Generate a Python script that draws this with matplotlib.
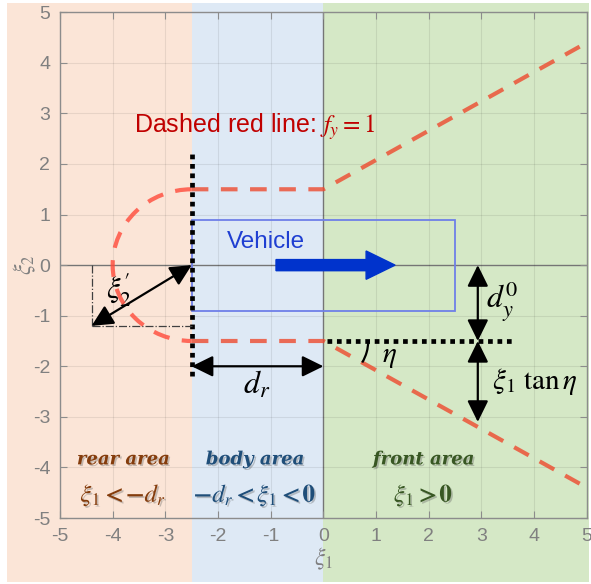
"""
Sketch of the f_y = 1 boundary around the vehicle (rear / body / front areas)
"""
import matplotlib
matplotlib.use('Agg')
import matplotlib.pyplot as plt
from matplotlib.patches import Rectangle, Arc
import matplotlib.patheffects as pe

plt.rcParams['font.family'] = ['Liberation Sans', 'DejaVu Sans']
plt.rcParams['mathtext.fontset'] = 'stix'

# geometry
d_r = 2.5
d_y0 = 1.5
veh_half_w = 0.9
veh_front = 2.5
ticks = [-5, -4, -3, -2, -1, 0, 1, 2, 3, 4, 5]

# region panels: left edge, right edge, colour
region_names = ['rear area', 'body area', 'front area']
region_rules = [r'$\boldsymbol{\xi_1 < -d_r}$', r'$\boldsymbol{-d_r < \xi_1 < 0}$',
                r'$\boldsymbol{\xi_1 > 0}$']
region_left = [-6.0, -2.5, 0.0]
region_right = [-2.5, 0.0, 5.05]
region_face = ['#FBE5D7', '#DEE9F5', '#D5E8C6']
region_text = ['#843C0C', '#1F4E79', '#385723']
region_xc = [-3.8, -1.3, 1.9]

# dashed red boundary
upper_x = [-2.5, 0, 5]
upper_y = [1.5, 1.5, 4.4]
lower_x = [-2.5, 0, 5]
lower_y = [-1.5, -1.5, -4.4]

# rear point for xi_2'
rear_pt = (-4.4, -1.2)
tan_pt_x = 2.93
tan_pt_y = -3.1

fig = plt.figure(figsize=(5.91, 5.84), dpi=100)
ax = fig.add_axes([0.1015, 0.113, 0.8915, 0.866])
ax.set_xlim(-5, 5)
ax.set_ylim(-5, 5)
ax.patch.set_alpha(0)

# coloured panels reaching outside the axes
for l, r, c in zip(region_left, region_right, region_face):
    ax.add_patch(Rectangle((l, -6.26), r - l, 11.44, facecolor=c, edgecolor='none',
                           clip_on=False, zorder=-5))

ax.set_xticks(ticks)
ax.set_yticks(ticks)
ax.set_xticklabels([str(t) for t in ticks])
ax.set_yticklabels([str(t) for t in ticks])
ax.tick_params(direction='in', length=5, colors='#8C8C8C', labelsize=14, top=True, right=True,
               pad=7, width=0.8)
ax.tick_params(axis='x', labelcolor='#808080')
ax.tick_params(axis='y', labelcolor='#808080')
ax.grid(True, color='#000000', alpha=0.08, linewidth=0.8)
for s in ax.spines.values():
    s.set_color('#8C8C8C')
    s.set_linewidth(1.0)
ax.axhline(0, color='#7F7F7F', linewidth=1.0, zorder=1)
ax.axvline(0, color='#7F7F7F', linewidth=1.0, zorder=1)

ax.set_xlabel(r'$\xi_1$', fontsize=17, color='#808080', labelpad=1)
ax.set_ylabel(r'$\xi_2$', fontsize=17, color='#808080', labelpad=-4)

# vehicle
ax.add_patch(Rectangle((-d_r, -veh_half_w), d_r + veh_front, 2 * veh_half_w,
                       facecolor='none', edgecolor='#6F7FE8', linewidth=1.3, zorder=3))
ax.text(-1.1, 0.45, 'Vehicle', color='#1F3FD2', fontsize=17.5, ha='center', va='center')
ax.arrow(-0.9, 0, 2.26, 0, width=0.22, head_width=0.56, head_length=0.55,
         length_includes_head=True, color='#0033CC', zorder=4)

# red dashed boundary
red_kw = dict(color='#EE4A2E', alpha=0.8, linewidth=3.0, dashes=(4, 3), zorder=5)
ax.plot(upper_x, upper_y, **red_kw)
ax.plot(lower_x, lower_y, **red_kw)
ax.add_patch(Arc((-d_r, 0), 2 * d_y0, 2 * d_y0, theta1=90, theta2=270,
                 edgecolor='#FF4A3A', alpha=0.8, linewidth=3.0, linestyle=(0, (4, 3)), zorder=5))
ax.text(-3.6, 2.73, r'Dashed red line: $f_y=1$', color='#C00000', fontsize=18,
        ha='left', va='center')

# black dotted guides
ax.plot([-d_r, -d_r], [-2.2, 2.2], color='black', linewidth=3.4, linestyle=(0, (1, 1)), zorder=6)
ax.plot([0.07, 3.6], [-d_y0, -d_y0], color='black', linewidth=3.4, linestyle=(0, (1, 1)), zorder=6)

# dash-dot projection of the rear point
ax.plot([rear_pt[0], rear_pt[0]], [0, rear_pt[1]], color='#404040', linewidth=0.9,
        linestyle='-.', zorder=6)
ax.plot([rear_pt[0], -d_r], [rear_pt[1], rear_pt[1]], color='#404040', linewidth=0.9,
        linestyle='-.', zorder=6)

arr = dict(arrowstyle='<|-|>,head_length=0.65,head_width=0.32', color='black',
           linewidth=1.6, mutation_scale=20, shrinkA=0, shrinkB=0)
ax.annotate('', xy=rear_pt, xytext=(-d_r, 0), arrowprops=arr, zorder=7)
ax.text(-3.88, -0.5, r"$\xi_2'$", fontsize=22, ha='center', va='center')

ax.annotate('', xy=(-d_r, -2.0), xytext=(0, -2.0), arrowprops=arr, zorder=7)
ax.text(-1.27, -2.37, r'$d_r$', fontsize=23, ha='center', va='center')

ax.annotate('', xy=(tan_pt_x, 0), xytext=(tan_pt_x, -d_y0), arrowprops=arr, zorder=7)
ax.text(3.4, -0.72, r'$d_y^0$', fontsize=23, ha='center', va='center')

ax.annotate('', xy=(tan_pt_x, -d_y0), xytext=(tan_pt_x, tan_pt_y), arrowprops=arr, zorder=7)
ax.text(3.2, -2.3, r'$\xi_1\ \tan\eta$', fontsize=21, ha='left', va='center')

ax.add_patch(Arc((0, -d_y0), 1.7, 1.7, theta1=-30, theta2=0, edgecolor='black',
                 linewidth=1.6, zorder=7))
ax.text(1.26, -1.8, r'$\eta$', fontsize=21, ha='center', va='center')

# region labels
shadow = [pe.SimplePatchShadow(offset=(1.2, -1.2), alpha=0.35, shadow_rgbFace='#606060'),
          pe.Normal()]
for name, rule, xc, c in zip(region_names, region_rules, region_xc, region_text):
    ax.text(xc, -3.84, name, color=c, fontsize=13, ha='center', va='center',
            family='DejaVu Serif', fontweight='bold', style='italic', path_effects=shadow)
    ax.text(xc, -4.55, rule, color=c, fontsize=18, ha='center', va='center',
            path_effects=shadow)

fig.savefig('out.png', dpi=100, facecolor='white')
